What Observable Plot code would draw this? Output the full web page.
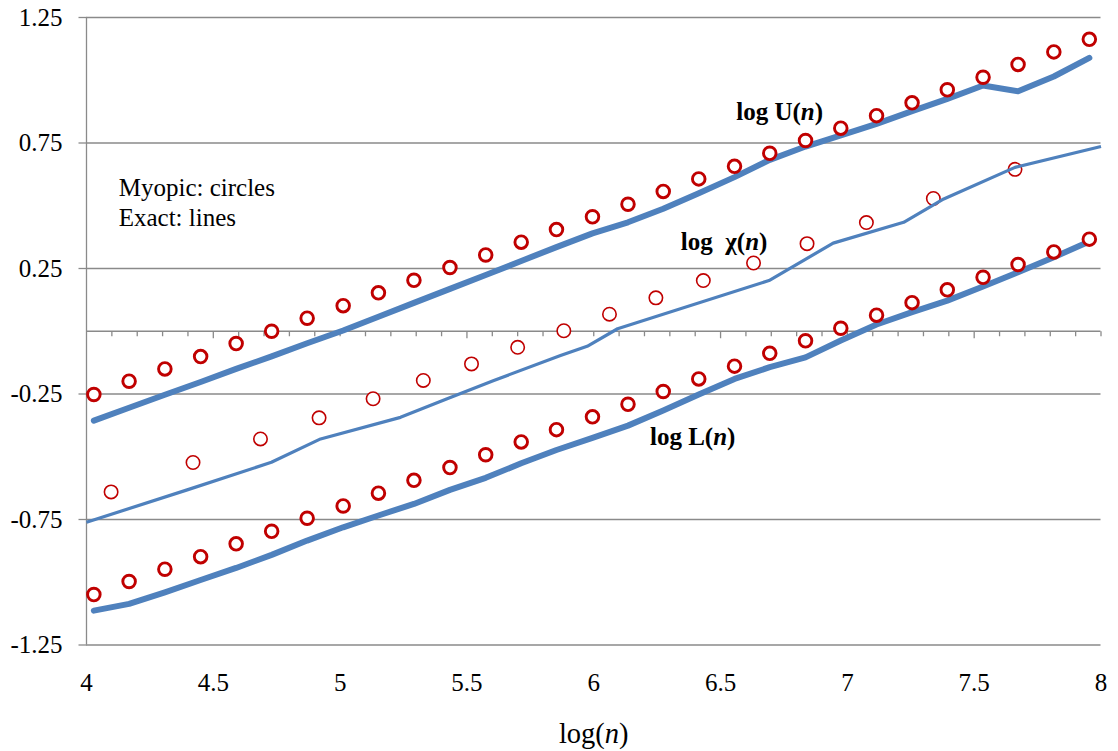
<!DOCTYPE html>
<html><head><meta charset="utf-8">
<script src="https://cdn.jsdelivr.net/npm/d3@7"></script>
<script src="https://cdn.jsdelivr.net/npm/@observablehq/plot@0.6"></script>
<style>
body{margin:0;background:#fff}
#chart text{white-space:pre}
</style>
</head><body><div id="chart"></div>
<script>
// ---- data ----
const xMyopic = [4.029, 4.168, 4.309, 4.450, 4.590, 4.730, 4.870, 5.012, 5.151, 5.291, 5.433, 5.574, 5.714, 5.853, 5.995, 6.135, 6.274, 6.414, 6.555, 6.694, 6.835, 6.974, 7.115, 7.255, 7.394, 7.535, 7.673, 7.814, 7.954];
const uMyopic = [-0.252,-0.199,-0.150,-0.101,-0.049,0.000,0.052,0.102,0.153,0.203,0.254,0.304,0.355,0.405,0.456,0.506,0.557,0.607,0.657,0.709,0.760,0.809,0.859,0.910,0.962,1.012,1.063,1.113,1.163];
const lMyopic = [-1.049,-0.997,-0.948,-0.898,-0.847,-0.797,-0.745,-0.696,-0.645,-0.594,-0.543,-0.492,-0.441,-0.392,-0.341,-0.291,-0.240,-0.190,-0.139,-0.088,-0.038,0.012,0.064,0.114,0.165,0.215,0.266,0.316,0.367];
const uExact = [-0.356,-0.305,-0.253,-0.202,-0.150,-0.100,-0.048,0.003,0.058,0.113,0.169,0.224,0.280,0.335,0.390,0.434,0.488,0.550,0.614,0.683,0.736,0.780,0.826,0.877,0.926,0.979,0.956,1.015,1.089];
const lExact = [-1.113,-1.086,-1.040,-0.991,-0.943,-0.891,-0.834,-0.781,-0.734,-0.688,-0.632,-0.584,-0.526,-0.473,-0.425,-0.376,-0.316,-0.252,-0.190,-0.143,-0.104,-0.037,0.027,0.076,0.122,0.178,0.235,0.295,0.358];
const xChiMyopic = [4.097,4.420,4.686,4.917,5.130,5.328,5.518,5.700,5.882,6.062,6.245,6.432,6.630,6.841,7.075,7.339,7.661];
const chiMyopic = [-0.640,-0.523,-0.429,-0.345,-0.269,-0.196,-0.130,-0.064,0.002,0.068,0.133,0.202,0.272,0.349,0.433,0.529,0.645];
const xChiExact = [4.0,4.397,4.729,4.923,5.238,5.422,5.606,5.869,5.974,6.094,6.691,6.944,7.222,7.380,7.661,8.0];
const chiExact = [-0.761,-0.632,-0.522,-0.429,-0.343,-0.269,-0.196,-0.097,-0.060,0.010,0.202,0.351,0.434,0.527,0.653,0.736];

const xTicks = [4, 4.5, 5, 5.5, 6, 6.5, 7, 7.5, 8];
const xTickLabels = ["4", "4.5", "5", "5.5", "6", "6.5", "7", "7.5", "8"];
const yTicks = [1.25, 0.75, 0.25, -0.25, -0.75, -1.25];
const yTickLabels = ["1.25", "0.75", "0.25", "-0.25", "-0.75", "-1.25"];
const xTitle = "log(n)";

const curveLabels = [
  {text: "log U(n)", x: 6.733, y: 0.843},
  {text: "log  χ(n)", x: 6.514, y: 0.3255},
  {text: "log L(n)", x: 6.390, y: -0.455}
];
const notes = [
  {text: "Myopic: circles", x: 4.127, y: 0.537},
  {text: "Exact: lines", x: 4.127, y: 0.421}
];

// ---- tables ----
const uM = xMyopic.map((x, i) => ({x, y: uMyopic[i]}));
const lM = xMyopic.map((x, i) => ({x, y: lMyopic[i]}));
const uE = xMyopic.map((x, i) => ({x, y: uExact[i]}));
const lE = xMyopic.map((x, i) => ({x, y: lExact[i]}));
const cM = xChiMyopic.map((x, i) => ({x, y: chiMyopic[i]}));
const cE = xChiExact.map((x, i) => ({x, y: chiExact[i]}));

const minorTicks = d3.range(1, 41).map(k => 4 + k / 10).filter(v => ![4.5,5.5,6.5,7.5].some(m => Math.abs(m - v) < 1e-6));
const majorTicks = [4.5, 5.5, 6.5, 7.5];

const blue = "#4F81BD", red = "#C00000", gray = "#8A8A8A";
const font = "'Liberation Serif', 'Times New Roman', serif";
const vTick = len => ({draw(ctx) { ctx.moveTo(0, 0); ctx.lineTo(0, len); }});
const hTick = len => ({draw(ctx) { ctx.moveTo(0, 0); ctx.lineTo(-len, 0); }});

const chart = Plot.plot({
  width: 1118, height: 751,
  marginLeft: 86, marginRight: 17.5, marginTop: 17, marginBottom: 106.5,
  x: {domain: [4, 8], axis: null},
  y: {domain: [-1.25, 1.25], axis: null},
  style: {fontFamily: font, background: "white", color: "black"},
  marks: [
    Plot.ruleY(yTicks, {stroke: gray, strokeWidth: 1.3}),
    Plot.dot(yTicks, {y: d => d, frameAnchor: "left", symbol: hTick(8), r: 2, stroke: gray, strokeWidth: 1.3}),
    Plot.ruleX([4], {stroke: gray, strokeWidth: 1.3}),
    Plot.ruleY([0], {stroke: gray, strokeWidth: 1.3}),
    Plot.dot(minorTicks, {x: d => d, y: () => 0, symbol: vTick(5), r: 2, stroke: gray, strokeWidth: 1.3}),
    Plot.dot(majorTicks, {x: d => d, y: () => 0, symbol: vTick(7), r: 2, stroke: gray, strokeWidth: 1.3}),
    Plot.text(yTicks, {y: d => d, text: (d, i) => yTickLabels[i], frameAnchor: "left", dx: -24, textAnchor: "end", fontSize: 25, fill: "black"}),
    Plot.text(xTicks, {x: d => d, text: (d, i) => xTickLabels[i], frameAnchor: "bottom", dy: 46, lineAnchor: "bottom", fontSize: 25, fill: "black"}),
    Plot.text([xTitle], {text: d => d, frameAnchor: "bottom", dy: 97.5, lineAnchor: "bottom", fontSize: 28.5, fill: "black"}),
    Plot.line(uE, {x: "x", y: "y", stroke: blue, strokeWidth: 6, strokeLinecap: "round", strokeLinejoin: "round"}),
    Plot.line(lE, {x: "x", y: "y", stroke: blue, strokeWidth: 6, strokeLinecap: "round", strokeLinejoin: "round"}),
    Plot.dot(uM, {x: "x", y: "y", r: 6.3, stroke: red, strokeWidth: 2.9, fill: "white"}),
    Plot.dot(lM, {x: "x", y: "y", r: 6.3, stroke: red, strokeWidth: 2.9, fill: "white"}),
    Plot.dot(cM, {x: "x", y: "y", r: 6.7, stroke: red, strokeWidth: 1.6, fill: "white"}),
    Plot.line(cE, {x: "x", y: "y", stroke: blue, strokeWidth: 3.2, strokeLinecap: "butt", strokeLinejoin: "round"}),
    Plot.text(notes, {x: "x", y: "y", text: "text", textAnchor: "start", lineAnchor: "bottom", fontSize: 25, fill: "black"}),
    Plot.text(curveLabels, {x: "x", y: "y", text: "text", textAnchor: "middle", lineAnchor: "bottom", fontSize: 25, fontWeight: "bold", fill: "black"})
  ]
});

// italic n in "(n)"
const NS = "http://www.w3.org/2000/svg";
chart.querySelectorAll("text").forEach(t => {
  if (t.children.length === 0 && t.textContent.includes("(n)")) {
    const parts = t.textContent.split("(n)");
    t.textContent = "";
    t.append(parts[0] + "(");
    const ts = document.createElementNS(NS, "tspan");
    ts.setAttribute("font-style", "italic");
    ts.textContent = "n";
    t.append(ts);
    t.append(")" + parts[1]);
  }
});
document.getElementById("chart").append(chart);
</script>
</body></html>
